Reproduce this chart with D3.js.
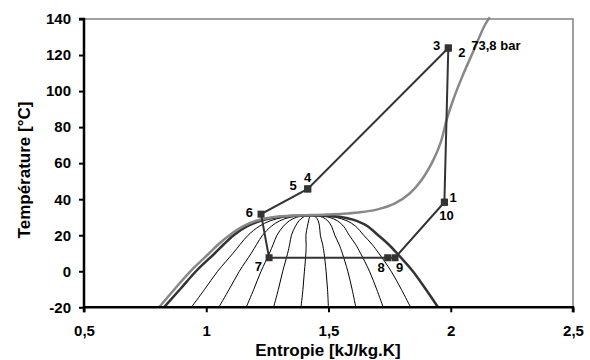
<!DOCTYPE html>
<html>
<head>
<meta charset="utf-8">
<script src="https://cdn.jsdelivr.net/npm/d3@7"></script>
<style>
  body { margin: 0; background: #fff; }
  svg { display: block; font-family: Arial, "Liberation Sans", sans-serif; }
</style>
</head>
<body>
<svg id="chart" width="590" height="360"></svg>
<script>
// saturation dome of CO2 (T in °C, entropy in kJ/kg.K)
const domeT  = [-20, -10, 0, 10, 15, 20, 25, 28, 30, 30.7, 31];
const domeSL = [0.827, 0.893, 0.958, 1.035, 1.072, 1.112, 1.168, 1.222, 1.29, 1.35, 1.43];
const domeSV = [1.948, 1.898, 1.845, 1.780, 1.745, 1.703, 1.66, 1.615, 1.555, 1.5, 1.43];

// vapour quality lines inside the dome
const qualities = [0.1, 0.2, 0.3, 0.4, 0.5, 0.6, 0.7, 0.8, 0.9];

// critical isobar 73,8 bar
const isoS = [0.807, 0.870, 0.935, 1.012, 1.05, 1.095, 1.152, 1.205, 1.27, 1.36, 1.43, 1.50, 1.56, 1.62, 1.697, 1.77, 1.833, 1.88, 1.929, 1.96, 1.983, 2.010, 2.05, 2.092, 2.140, 2.16];
const isoT = [-20, -10, 0, 10, 15, 20, 25, 28, 30, 31, 31.2, 31.5, 31.9, 32.6, 34.2, 37.5, 43.3, 50.5, 61.8, 72, 84, 95.2, 109, 122, 136.8, 141];

// cycle points 1..10
const cycleLabels = ["1", "2", "3", "4", "5", "6", "7", "8", "9", "10"];
const cycleS = [1.974, 1.990, 1.990, 1.415, 1.415, 1.224, 1.257, 1.742, 1.772, 1.974];
const cycleT = [38.3, 123.9, 123.9, 45.7, 45.7, 31.7, 7.5, 7.5, 7.5, 38.3];

const xTicks = [0.5, 1, 1.5, 2, 2.5];
const yTicks = [-20, 0, 20, 40, 60, 80, 100, 120, 140];

const svg = d3.select('#chart');
const x = d3.scaleLinear().domain([0.5, 2.5]).range([84, 573]);
const y = d3.scaleLinear().domain([-20, 140]).range([307.3, 19]);

// frame top/right
svg.append('path')
  .attr('d', `M${x(0.5)},${y(140)}H${x(2.5)}V${y(-20)}`)
  .attr('fill', 'none')
  .attr('stroke', '#808080')
  .attr('stroke-width', 1.5);

// quality lines
const smooth = d3.line().x(d => x(d[0])).y(d => y(d[1])).curve(d3.curveCatmullRom.alpha(0.5));
qualities.forEach(q => {
  const pts = domeT.map((t, i) => [domeSL[i] + q * (domeSV[i] - domeSL[i]), t]);
  svg.append('path')
    .attr('d', smooth(pts))
    .attr('fill', 'none')
    .attr('stroke', '#000')
    .attr('stroke-width', 1);
});

// dome
const domePts = domeT.map((t, i) => [domeSL[i], t])
  .concat(domeT.slice(0, -1).map((t, i) => [domeSV[i], t]).reverse());
const monoLine = d3.line().x(d => x(d[0])).y(d => y(d[1])).curve(d3.curveMonotoneX);
svg.append('path')
  .attr('d', monoLine(domePts))
  .attr('fill', 'none')
  .attr('stroke', '#333')
  .attr('stroke-width', 2.5);

// isobar
svg.append('path')
  .attr('d', smooth(isoS.map((s, i) => [s, isoT[i]])))
  .attr('fill', 'none')
  .attr('stroke', '#888')
  .attr('stroke-width', 2.5);

// cycle
const cyc = cycleS.map((s, i) => [s, cycleT[i]]);
svg.append('path')
  .attr('d', d3.line().x(d => x(d[0])).y(d => y(d[1]))(cyc))
  .attr('fill', 'none')
  .attr('stroke', '#333')
  .attr('stroke-width', 2);

svg.selectAll('rect.pt')
  .data(cyc)
  .enter()
  .append('rect')
  .attr('class', 'pt')
  .attr('x', d => x(d[0]) - 3.5)
  .attr('y', d => y(d[1]) - 3.5)
  .attr('width', 7)
  .attr('height', 7)
  .attr('fill', '#333');

// point labels: offsets from the marker
const labelOffsets = {
  '1': [5, 0, 'start'], '2': [10, 9, 'start'], '3': [-8, 2, 'end'],
  '4': [0, -7, 'middle'], '5': [-11, 1, 'end'], '6': [-8, 3, 'end'],
  '7': [-7, 13, 'end'], '8': [-3, 14, 'end'], '9': [1, 14, 'start'],
  '10': [2, 18, 'middle']
};
svg.selectAll('text.lbl')
  .data(cycleLabels)
  .enter()
  .append('text')
  .attr('class', 'lbl')
  .attr('x', (d, i) => x(cycleS[i]) + labelOffsets[d][0])
  .attr('y', (d, i) => y(cycleT[i]) + labelOffsets[d][1])
  .attr('text-anchor', d => labelOffsets[d][2])
  .attr('font-size', 13)
  .attr('font-weight', 'bold')
  .text(d => d);

svg.append('text')
  .attr('x', x(cycleS[1]) + 23)
  .attr('y', y(cycleT[1]) + 2)
  .attr('font-size', 13)
  .attr('font-weight', 'bold')
  .text('73,8 bar');

// axes
const fmt = d => String(d).replace('.', ',');
const yAxis = svg.append('g')
  .attr('transform', `translate(${x(0.5)},0)`)
  .call(d3.axisLeft(y).tickValues(yTicks).tickSize(5).tickPadding(8).tickFormat(fmt));
const xAxis = svg.append('g')
  .attr('transform', `translate(0,${y(-20)})`)
  .call(d3.axisBottom(x).tickValues(xTicks).tickSize(5).tickPadding(13).tickFormat(fmt));
[yAxis, xAxis].forEach(g => {
  g.attr('font-family', 'Arial, "Liberation Sans", sans-serif')
    .attr('font-size', 15)
    .attr('font-weight', 'bold');
  g.selectAll('text').attr('fill', '#000');
  g.selectAll('path, line').attr('stroke', '#000').attr('stroke-width', 2);
  g.select('.domain').attr('stroke-width', 2.5);
});
yAxis.select('.domain').attr('d', `M-5,${y(140)}H0V${y(-20)}`);
xAxis.select('.domain').attr('d', `M${x(0.5)},5V0H${x(2.5)}V5`);

svg.append('text')
  .attr('x', 328)
  .attr('y', 356)
  .attr('text-anchor', 'middle')
  .attr('font-size', 17)
  .attr('font-weight', 'bold')
  .text('Entropie [kJ/kg.K]');

svg.append('text')
  .attr('transform', 'translate(30,170) rotate(-90)')
  .attr('text-anchor', 'middle')
  .attr('font-size', 17)
  .attr('font-weight', 'bold')
  .text('Température [°C]');
</script>
</body>
</html>
